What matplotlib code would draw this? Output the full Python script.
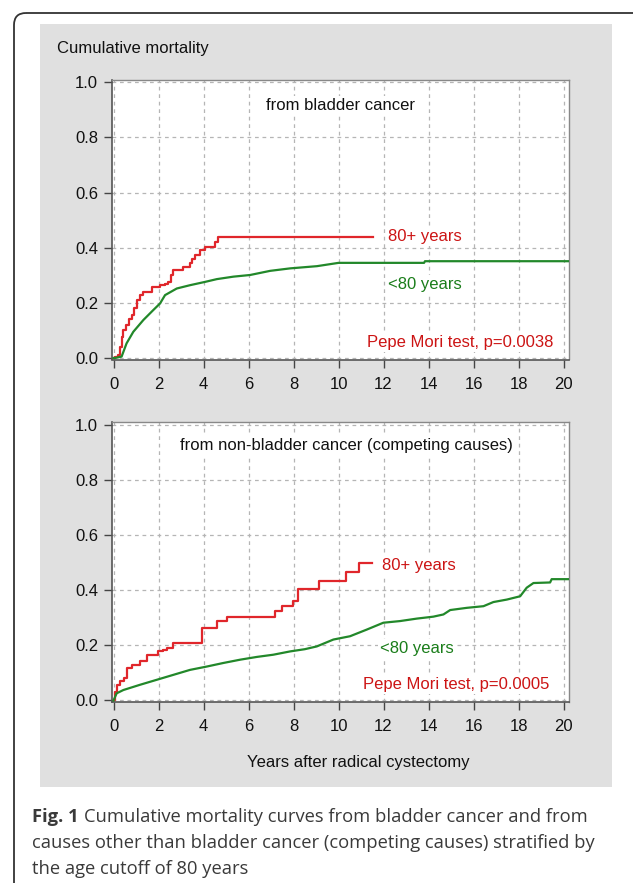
import matplotlib
matplotlib.use("Agg")
import matplotlib.pyplot as plt
from matplotlib.patches import Rectangle, FancyBboxPatch

# Cumulative mortality from bladder cancer (top panel)
bc_old_t = [0, 0.07, 0.18, 0.29, 0.37, 0.44, 0.56, 0.68, 0.81, 0.92, 1.03, 1.18, 1.33, 1.7,
            2.07, 2.3, 2.44, 2.55, 2.66, 3.1, 3.4, 3.47, 3.62, 3.84, 4.07, 4.51, 4.66, 11.52]
bc_old_v = [0, 0.005, 0.011, 0.04, 0.077, 0.1, 0.12, 0.14, 0.156, 0.18, 0.21, 0.228, 0.24, 0.256,
            0.264, 0.27, 0.276, 0.3, 0.319, 0.331, 0.343, 0.36, 0.373, 0.391, 0.403, 0.421, 0.44, 0.44]
bc_young_t = [0, 0.07, 0.36, 0.58, 0.88, 1.33, 1.77, 2.07, 2.29, 2.81, 3.4, 4.07, 4.59, 5.33,
              6.07, 6.96, 7.85, 9.04, 10.0, 13.8, 13.84, 20.25]
bc_young_v = [0, 0, 0.005, 0.053, 0.095, 0.138, 0.174, 0.198, 0.228, 0.252, 0.264, 0.276, 0.286, 0.295,
              0.301, 0.316, 0.325, 0.333, 0.345, 0.345, 0.351, 0.351]

# Cumulative mortality from competing causes (bottom panel)
oc_old_t = [0, 0.05, 0.14, 0.3, 0.45, 0.59, 0.81, 1.18, 1.47, 1.99, 2.2, 2.36, 2.66, 3.92,
            4.58, 5.03, 7.18, 7.47, 7.99, 8.21, 9.15, 10.33, 10.92, 11.47]
oc_old_v = [0, 0.03, 0.057, 0.07, 0.081, 0.117, 0.13, 0.142, 0.166, 0.178, 0.184, 0.19, 0.209, 0.263,
            0.288, 0.304, 0.324, 0.342, 0.361, 0.403, 0.434, 0.466, 0.497, 0.497]
oc_young_t = [0, 0.14, 0.44, 1.18, 1.92, 2.66, 3.4, 4.14, 4.88, 5.63, 6.37, 7.1, 7.85, 8.5, 9.03,
              9.77, 10.51, 11.25, 11.99, 12.73, 13.48, 14.21, 14.66, 14.96, 15.7, 16.44, 16.88,
              17.48, 18.07, 18.36, 18.66, 19.4, 19.47, 20.25]
oc_young_v = [0, 0.026, 0.038, 0.057, 0.075, 0.093, 0.111, 0.123, 0.136, 0.148, 0.158, 0.166, 0.178,
              0.186, 0.196, 0.221, 0.233, 0.257, 0.282, 0.288, 0.297, 0.304, 0.312, 0.328, 0.336,
              0.342, 0.357, 0.366, 0.378, 0.409, 0.426, 0.428, 0.44, 0.44]

x_ticks = list(range(0, 21, 2))
y_ticks = [0.0, 0.2, 0.4, 0.6, 0.8, 1.0]

red = "#e0262b"
green = "#22882a"
red_txt = "#cc1414"
green_txt = "#1a7d1a"
fs = 12

W, H = 633, 883
fig = plt.figure(figsize=(W / 100, H / 100), dpi=100)
plt.rcParams["font.family"] = ["Liberation Sans", "DejaVu Sans"]

# background layer in pixel coordinates
bg = fig.add_axes([0, 0, 1, 1], zorder=-1)
bg.set_xlim(0, W)
bg.set_ylim(H, 0)
bg.axis("off")
bg.add_patch(FancyBboxPatch((14, 13), 700, 1000, boxstyle="round,pad=0,rounding_size=12",
                            fill=False, edgecolor="#333333", lw=1.3))
bg.add_patch(Rectangle((40, 24), 572, 763, color="#e0e0e0", lw=0))

bg.text(57, 49, "Cumulative mortality", fontsize=fs, va="center", ha="left", color="#111111")
bg.text(358, 762, "Years after radical cystectomy", fontsize=fs, va="center", ha="center",
        color="#111111")

# caption
cap_font = ["Open Sans", "DejaVu Sans"]
cap_size = 13.2
cap_col = "#3a3a3a"
fig.canvas.draw()
r = fig.canvas.get_renderer()
t1 = bg.text(32, 822, "Fig. 1", fontsize=cap_size, fontweight="bold", family=cap_font,
             color=cap_col, va="baseline")
bb = t1.get_window_extent(renderer=r)
bg.text(32 + bb.width + 5, 822, "Cumulative mortality curves from bladder cancer and from",
        fontsize=cap_size, family=cap_font, color=cap_col, va="baseline")
bg.text(32, 848, "causes other than bladder cancer (competing causes) stratified by",
        fontsize=cap_size, family=cap_font, color=cap_col, va="baseline")
bg.text(32, 874, "the age cutoff of 80 years",
        fontsize=cap_size, family=cap_font, color=cap_col, va="baseline")


def panel(top_px, title, old_t, old_v, young_t, young_v, lab_old, lab_young, pval):
    ax = fig.add_axes([112 / W, 1 - (top_px + 280) / H, 457 / W, 280 / H])
    ax.set_facecolor("white")
    ax.step(old_t, old_v, where="post", color=red, lw=1.6, zorder=3)
    ax.plot(young_t, young_v, color=green, lw=1.6, zorder=3)
    ax.set_xlim(-0.067, 20.24)
    ax.set_ylim(-0.0055, 1.01)
    ax.set_xticks(x_ticks)
    ax.set_yticks(y_ticks)
    ax.set_yticklabels([f"{v:.1f}" for v in y_ticks])
    ax.grid(True, color="#b5b5b5", lw=0.9, ls=(0, (3, 3)))
    ax.set_axisbelow(True)
    ax.tick_params(direction="out", length=5.5, width=1, color="#444444",
                   labelsize=fs, labelcolor="#111111")
    ax.tick_params(axis="x", pad=7)
    ax.tick_params(axis="y", pad=4.5)
    for s in ["left", "bottom"]:
        ax.spines[s].set_color("#555555")
        ax.spines[s].set_linewidth(1.2)
    for s in ["top", "right"]:
        ax.spines[s].set_color("#888888")
        ax.spines[s].set_linewidth(1.0)
    box = dict(facecolor="white", edgecolor="none", pad=1.5)
    ax.text(title[1], title[2], title[0], fontsize=fs, ha="center", va="center",
            color="#111111", bbox=box, zorder=4)
    ax.text(lab_old[0], lab_old[1], "80+ years", fontsize=fs, color=red_txt,
            va="center", bbox=box, zorder=4)
    ax.text(lab_young[0], lab_young[1], "<80 years", fontsize=fs, color=green_txt,
            va="center", bbox=box, zorder=4)
    ax.text(pval[1], pval[2], pval[0], fontsize=fs, color=red_txt,
            va="center", bbox=box, zorder=4)
    return ax


panel(79.5, ("from bladder cancer", 10.1, 0.917),
      bc_old_t, bc_old_v, bc_young_t, bc_young_v,
      (12.2, 0.442), (12.2, 0.268), ("Pepe Mori test, p=0.0038", 11.25, 0.055))
panel(422, ("from non-bladder cancer (competing causes)", 10.35, 0.925),
      oc_old_t, oc_old_v, oc_young_t, oc_young_v,
      (11.92, 0.49), (11.85, 0.19), ("Pepe Mori test, p=0.0005", 11.1, 0.057))

fig.savefig("out.png", dpi=100)
